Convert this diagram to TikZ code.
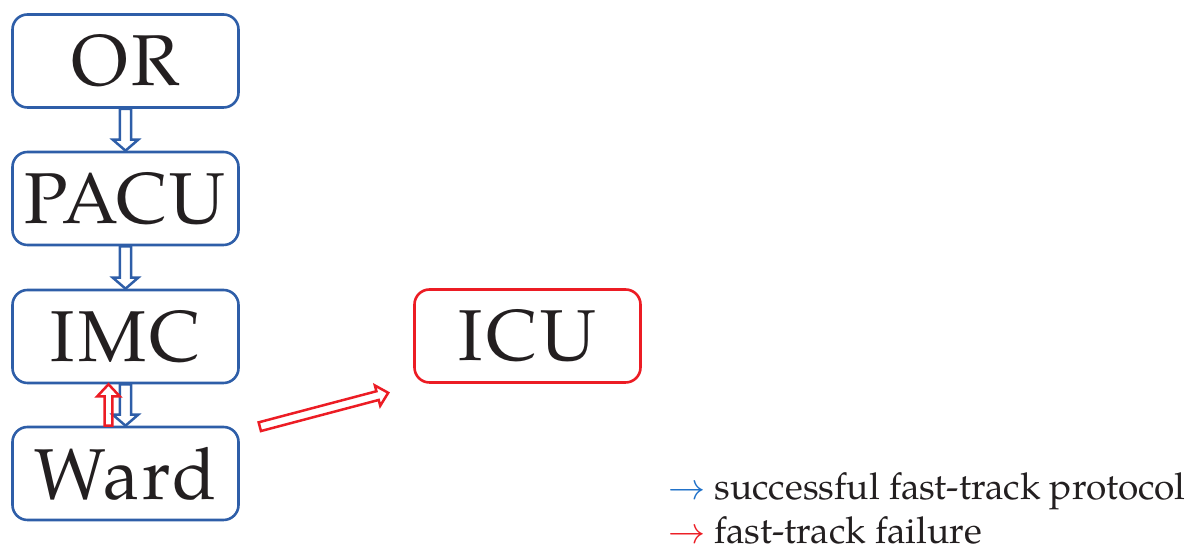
\RequirePackage{fix-cm}
\documentclass[tikz,border=0pt]{standalone}
\usepackage{fontspec}
\setmainfont{TeX Gyre Pagella}
\newfontfamily\boxfont[LetterSpace=4]{TeX Gyre Pagella}
\usetikzlibrary{calc}

\definecolor{boxblue}{RGB}{46,94,168}
\definecolor{failred}{RGB}{236,28,36}
\definecolor{legendblue}{RGB}{30,112,200}
\definecolor{ink}{RGB}{35,31,32}

\tikzset{
  x=1pt, y=1pt,
  unit/.style={draw=boxblue, line width=2.6, rounded corners=15,
    minimum width=226, minimum height=93, inner sep=0, text=ink,
    font=\boxfont\fontsize{72}{72}\selectfont},
  % hollow block arrow: {shaft half width}{head half width}{head length}
  hollow/.style n args={3}{line width=2.5, line join=miter,
    to path={let \p1=(\tikztostart), \p2=(\tikztotarget),
      \n1={atan2(\y2-\y1,\x2-\x1)}, \n2={veclen(\x2-\x1,\y2-\y1)} in
      {[shift={(\p1)}, rotate=\n1]
        (0,-#1) -- (\n2-#3,-#1) -- (\n2-#3,-#2) -- (\n2,0)
        -- (\n2-#3,#2) -- (\n2-#3,#1) -- (0,#1) -- cycle}}},
  legend/.style={anchor=base west, inner sep=0, text=ink,
    font=\fontsize{37}{37}\selectfont}
}

\begin{document}
\begin{tikzpicture}
\useasboundingbox (0,0) rectangle (1195,553);

% care units
\node[unit] (OR)   at (125.5,492)   {OR};
\node[unit] (PACU) at (125.5,354.5) {PACU};
\node[unit] (IMC)  at (125.5,216.5) {IMC};
\node[unit] (Ward) at (125.5,79.5)  {Ward};
\node[unit, draw=failred] (ICU) at (527.5,217) {ICU};

% fast-track pathway
\draw[boxblue, hollow={5.7}{12.7}{11}] (OR.south) to (PACU.north);
\draw[boxblue, hollow={5.7}{12.7}{11}] (PACU.south) to (IMC.north);
\draw[boxblue, hollow={5.7}{12.7}{11}] (IMC.south) to (Ward.north);

% failures
\draw[failred, hollow={3.8}{11.2}{12}] ([xshift=-17]Ward.north) to ([xshift=-17]IMC.south);
\coordinate (failStart) at ([xshift=20,yshift=-1]Ward.north east);
\coordinate (failEnd) at ($(ICU.south west)+(-25,-9)$);
\draw[failred, hollow={4.5}{10.5}{11}] (failStart) to (failEnd);

% legend
\node[legend] (legOk) at (668,53)
  {\textcolor{legendblue}{$\rightarrow$} successful fast-track protocol};
\node[legend] (legFail) at (668,9)
  {\textcolor{failred}{$\rightarrow$} fast-track failure};
\end{tikzpicture}
\end{document}
